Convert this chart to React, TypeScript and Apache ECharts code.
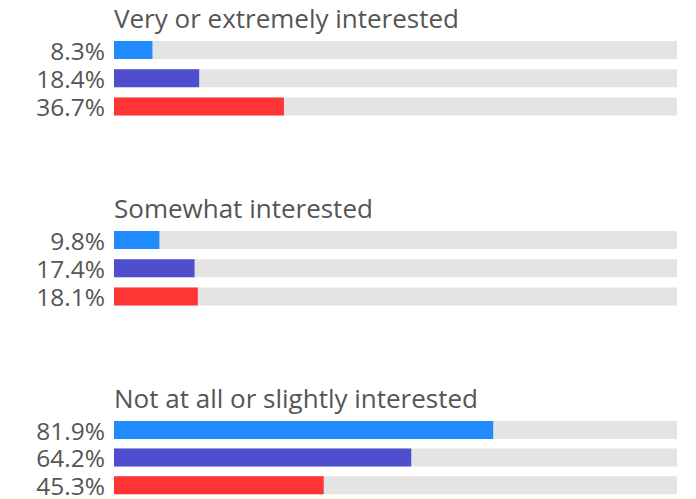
import React, { useEffect, useRef } from "react";
import * as echarts from "echarts";

const groupTitles = [
  "Very or extremely interested",
  "Somewhat interested",
  "Not at all or slightly interested",
];
const veryValues = [8.3, 18.4, 36.7];
const somewhatValues = [9.8, 17.4, 18.1];
const notValues = [81.9, 64.2, 45.3];
const groupValues = [veryValues, somewhatValues, notValues];
const barColors = ["#1f8bff", "#4f4ecf", "#ff3434"];
const rowKeys = ["a", "b", "c"];

const FONT = "'Open Sans', sans-serif";
const TEXT = "#555555";

export default function App() {
  const ref = useRef<HTMLDivElement>(null);
  useEffect(() => {
    if (!ref.current) return;
    const chart = echarts.init(ref.current, undefined, { renderer: "svg" });
    const gridTops = [35.9, 225.9, 416.2];
    const grids = gridTops.map((t) => ({
      left: 114,
      right: 19,
      top: t,
      height: 84.6,
      containLabel: false,
    }));
    const xAxes = gridTops.map((_, i) => ({
      type: "value",
      gridIndex: i,
      min: 0,
      max: 121.6,
      show: false,
    }));
    const yAxes = gridTops.map((_, i) => ({
      type: "category",
      gridIndex: i,
      data: rowKeys,
      inverse: true,
      show: false,
    }));
    const series = groupValues.map((vals, i) => ({
      type: "bar",
      xAxisIndex: i,
      yAxisIndex: i,
      barWidth: 18,
      showBackground: true,
      backgroundStyle: { color: "#e4e4e4" },
      data: vals.map((v, j) => ({ value: v, itemStyle: { color: barColors[j] } })),
      label: {
        show: true,
        position: "left",
        distance: 9,
        formatter: (p: any) => p.value.toFixed(1) + "%",
        color: TEXT,
        fontFamily: FONT,
        fontSize: 24.5,
        lineHeight: 24,
      },
    }));
    const graphics = groupTitles.map((t, i) => ({
      type: "text",
      left: 114,
      top: 5 + i * 190,
      style: { text: t, fill: TEXT, font: `26px ${FONT}` },
    }));
    chart.setOption({
      animation: false,
      grid: grids,
      xAxis: xAxes,
      yAxis: yAxes,
      series,
      graphic: graphics,
    });
    return () => chart.dispose();
  }, []);
  return <div ref={ref} style={{ width: 696, height: 499, position: "absolute", left: 0, top: 0 }} />;
}
